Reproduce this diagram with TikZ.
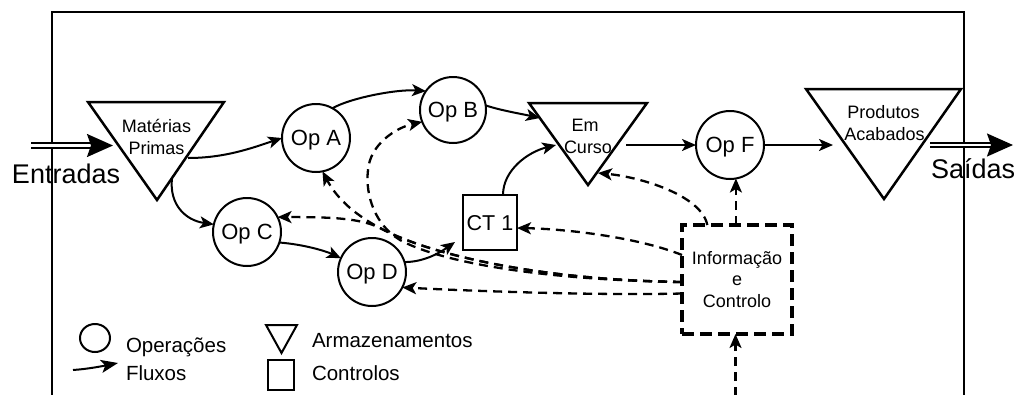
\documentclass[tikz,border=0pt]{standalone}
\usepackage{fontspec}
\setmainfont{Liberation Sans}
\usetikzlibrary{arrows.meta,calc}
\begin{document}
\begin{tikzpicture}[x=1pt,y=-1pt,
  every node/.style={inner sep=0pt, outer sep=0pt},
  arrowtip/.style={-{Stealth[length=14pt,width=12pt,inset=3.5pt]}},
  flowline/.style={line width=2pt, arrowtip},
  ctrlline/.style={line width=2.3pt, dash pattern=on 9pt off 6pt, arrowtip},
  opnode/.style={circle, draw, line width=2pt, minimum size=68pt,
    font=\fontsize{22}{22}\selectfont, text depth=0pt},
  storetri/.style={line width=2.5pt, line join=miter},
  tritext/.style={anchor=base, font=\fontsize{18}{18}\selectfont},
  bigtext/.style={anchor=base west, font=\fontsize{27}{27}\selectfont},
  legtext/.style={anchor=base west, font=\fontsize{20.5}{20.5}\selectfont},
  dblarrow/.style={double, double distance=2.5pt, line width=1.8pt,
    -{Stealth[length=26pt,width=23pt,inset=4pt]}},
]
\useasboundingbox (0,0) rectangle (1019,394);
\fill[white] (0,0) rectangle (1019,394);

% system boundary (open at the bottom)
\draw[line width=2.8pt, line join=miter] (52,396) -- (52,12) -- (964,12) -- (964,396);

% storages
\draw[storetri] (88,102) -- (224,102) -- (157,200) -- cycle;
\draw[storetri] (529,103) -- (647,103) -- (588,185) -- cycle;
\draw[storetri] (806,89) -- (961,89) -- (884,199) -- cycle;
\node[tritext] (mp1) at (156.5,132) {Matérias};
\node[tritext] (mp2) at (156.5,154) {Primas};
\node[tritext] (ec1) at (585,131) {Em};
\node[tritext] (ec2) at (588,153) {Curso};
\node[tritext] (pa1) at (883.5,118) {Produtos};
\node[tritext] (pa2) at (884.5,140) {Acabados};

% operations
\node[opnode] (opa) at (316,138) {Op A};
\node[opnode, minimum size=66pt] (opb) at (453,110) {Op B};
\node[opnode] (opc) at (247,232) {Op C};
\node[opnode] (opd) at (372,272) {Op D};
\node[opnode] (opf) at (730,145) {Op F};

% control point and information system
\node[draw, line width=2pt, minimum width=54pt, minimum height=55pt,
  font=\fontsize{21.5}{21.5}\selectfont, text depth=0pt] (ct1) at (490,222.5) {CT 1};
\node[draw, line width=3.3pt, dash pattern=on 12pt off 6pt,
  minimum width=110pt, minimum height=109pt, align=center,
  font=\fontsize{18}{21.5}\selectfont] (info) at (737,279.5) {Informação\\e\\Controlo};

% inputs and outputs
\node[bigtext] (entradas) at (12,183) {Entradas};
\node[bigtext] (saidas) at (931,178) {Saídas};

% attachment points on the storages
\coordinate (entr) at (31,145.5);
\coordinate (mpIn) at (113,145.5);
\coordinate (mpA) at (188,158);
\coordinate (mpC) at (172,178);
\coordinate (ecInB) at (540,118);
\coordinate (ecInT) at (556,145);
\coordinate (ecOut) at (626,145);
\coordinate (ecBack) at (598,173);
\coordinate (paIn) at (833,145);
\coordinate (paOut) at (930,145);
\coordinate (sai) at (1013,145);
\coordinate (ct1foot) at (455,242);
\coordinate (fork) at ($(info.west)+(0,2.5)$);
\coordinate (ext) at ($(info.south)+(-1.5,62)$);

% material flows
\draw[dblarrow] (entr) -- (mpIn);
\draw[dblarrow] (paOut) -- (sai);
\draw[flowline] (mpA) .. controls +(37,0) and +(-30,10) .. (opa.west);
\draw[flowline] (mpC) .. controls +(-3,27) and +(-28,-4) .. (opc.167);
\draw[flowline] (opa.61) .. controls +(17,-10) and +(-30,-2) .. (opb.145);
\draw[flowline] (opb.8) .. controls +(15,5) and +(-18,-4) .. (ecInB);
\draw[flowline] ($(ct1.north)+(13,0)$) .. controls +(0,-25) and +(-28,7) .. (ecInT);
\draw[flowline] (opc.-18) .. controls +(25,2) and +(-15,-7) .. (opd.156);
\draw[flowline] (opd.17) .. controls +(18,0) and +(-17,12) .. (ct1foot);
\draw[flowline] (ecOut) -- (opf);
\draw[flowline] (opf) -- (paIn);

% information and control flows
\draw[ctrlline] (opf.-80 |- info.north) -- (opf.-80);
\draw[ctrlline] ($(info.north west)!0.23!(info.north east)$)
  .. controls +(-6,-30) and +(42,4) .. (ecBack);
\draw[ctrlline] ($(info.west)+(0,-24.5)$)
  .. controls +(-42,-17) and +(52,1) .. ($(ct1.east)+(0,5.5)$);
\draw[ctrlline] ($(info.west)+(0,14)$)
  .. controls +(-80,2) and +(78,4) .. (opd.-27);
\draw[ctrlline] (fork) .. controls (540,280) and (430,255) .. (380,228)
  .. controls (360,218) and (330,217) .. (opc.26);
\draw[ctrlline] (fork) .. controls (540,280) and (430,255) .. (380,228)
  .. controls (350,212) and (335,195) .. (opa.-79);
\draw[ctrlline] (fork) .. controls (540,280) and (440,262) .. (400,240)
  .. controls (375,225) and (365,195) .. (368,170)
  .. controls (370,145) and (395,128) .. (opb.-159);
\draw[ctrlline] (ext) -- ($(info.south)+(-1.5,0)$);

% legend
\draw[line width=2pt] (95,338) ellipse [x radius=15, y radius=14];
\coordinate (legA) at (73,370);
\coordinate (legB) at (118,363);
\draw[line width=2pt, -{Stealth[length=17pt,width=13pt,inset=4pt]}]
  (legA) .. controls +(15,-1) and +(-15,3) .. (legB);
\draw[line width=2pt, line join=miter] (266,325) -- (297,325) -- (281.5,353) -- cycle;
\draw[line width=2pt] (268,360) rectangle (294,390);
\node[legtext] (lg1) at (126,352) {Operações};
\node[legtext] (lg2) at (126,380) {Fluxos};
\node[legtext] (lg3) at (312,347) {Armazenamentos};
\node[legtext] (lg4) at (312,380) {Controlos};
\end{tikzpicture}
\end{document}
